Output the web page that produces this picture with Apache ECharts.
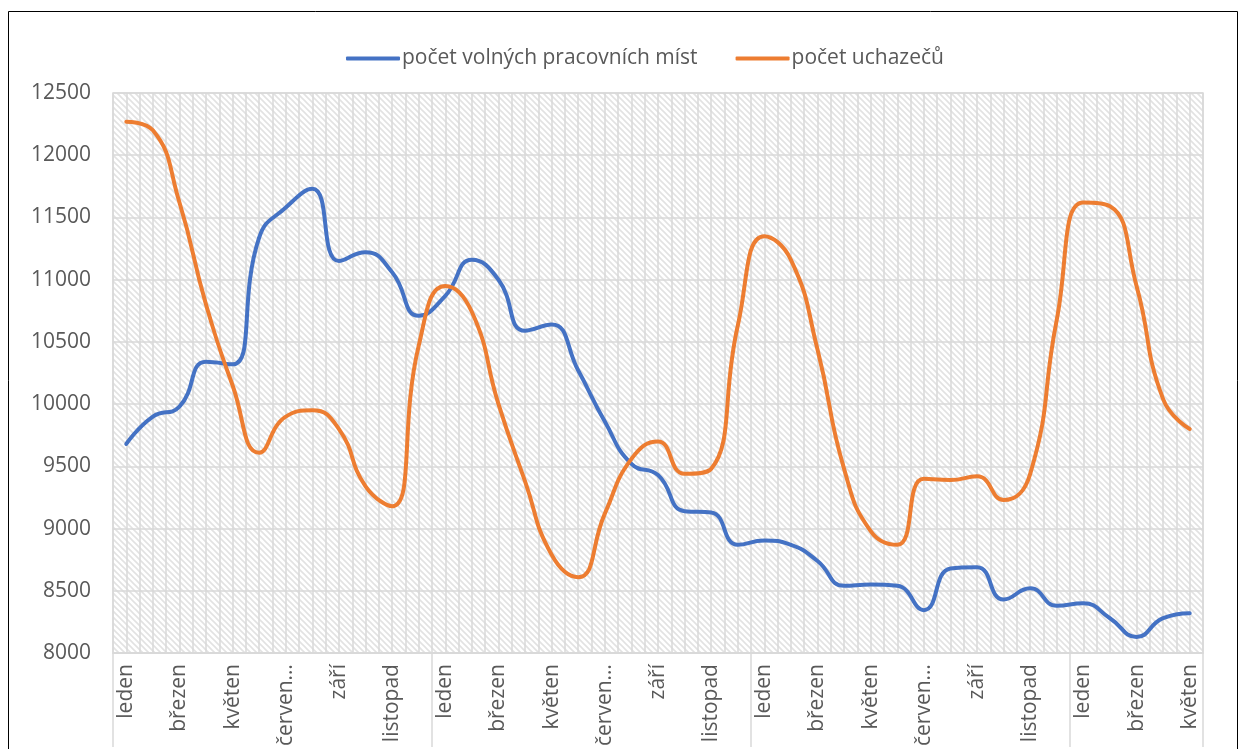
<!DOCTYPE html>
<html>
<head>
<meta charset="utf-8">
<script src="https://cdn.jsdelivr.net/npm/echarts@6/dist/echarts.min.js"></script>
<style>
  html, body { margin: 0; padding: 0; background: #fff; }
  #chart { width: 1244px; height: 749px; }
</style>
</head>
<body>
<div id="chart"></div>
<script>
const months = ['leden', 'únor', 'březen', 'duben', 'květen', 'červen', 'červenec', 'srpen', 'září', 'říjen', 'listopad', 'prosinec']
// 3 full years + Jan..May of the fourth
const categories = [...months, ...months, ...months, ...months.slice(0, 5)]

const volnaMista = [
  9680, 9900, 9980, 10340, 10320, 11340, 11580, 11730, 11150, 11220, 11060, 10710,
  10870, 11160, 11000, 10590, 10640, 10270, 9860, 9520, 9430, 9140, 9130, 8870,
  8905, 8870, 8740, 8540, 8550, 8540, 8345, 8680, 8690, 8430, 8520, 8380,
  8400, 8280, 8130, 8280, 8320
]
const uchazeci = [
  12270, 12200, 11620, 10800, 10150, 9610, 9900, 9950, 9800, 9340, 9180, 10470,
  10950, 10740, 10000, 9380, 8790, 8610, 9120, 9560, 9700, 9440, 9480, 10630,
  11350, 11160, 10440, 9480, 8980, 8870, 9400, 9390, 9420, 9230, 9440, 10680,
  11620, 11590, 10950, 10040, 9800
]
const seriesNames = ['počet volných pracovních míst', 'počet uchazečů']
const yTicks = { min: 8000, max: 12500, step: 500 }

const font = 'Open Sans, Noto Sans, sans-serif'
const textColor = '#595959'
const gridColor = '#d9d9d9'

// hatched plot background (like Excel's wide downward diagonal fill)
const makeHatch = () => {
  const s = 6
  const c = document.createElement('canvas')
  c.width = s
  c.height = s
  const ctx = c.getContext('2d')
  ctx.fillStyle = '#ffffff'
  ctx.fillRect(0, 0, s, s)
  ctx.strokeStyle = '#e2e2e2'
  ctx.lineWidth = 1.6
  ctx.beginPath()
  ctx.moveTo(-1, -1); ctx.lineTo(s + 1, s + 1)
  ctx.moveTo(-1, s - 1); ctx.lineTo(1, s + 1)
  ctx.moveTo(s - 1, -1); ctx.lineTo(s + 1, 1)
  ctx.stroke()
  return c
}

const chart = echarts.init(document.getElementById('chart'), null, { renderer: 'canvas' })

const halfSteps = categories.flatMap(() => ['', ''])

const option = {
  animation: false,
  textStyle: { fontFamily: font },
  graphic: [
    {
      type: 'rect',
      shape: { x: 8.5, y: 11.5, width: 1229, height: 760 },
      style: { fill: 'none', stroke: '#000', lineWidth: 1 },
      silent: true,
      z: 0
    }
  ],
  legend: {
    top: 43,
    left: 341,
    itemGap: 38,
    itemWidth: 54,
    itemHeight: 4,
    icon: 'roundRect',
    textStyle: { color: textColor, fontSize: 21, fontFamily: font, padding: [0, 0, 0, -3] },
    data: seriesNames
  },
  grid: {
    left: 113,
    right: 41,
    top: 93,
    bottom: 94,
    show: true,
    backgroundColor: { image: makeHatch(), repeat: 'repeat' },
    borderColor: gridColor,
    borderWidth: 1.5
  },
  xAxis: [
    {
      type: 'category',
      data: categories,
      boundaryGap: true,
      axisLine: { show: true, lineStyle: { color: gridColor, width: 1.5 } },
      axisTick: {
        show: true,
        interval: (i) => i % 12 === 0,
        length: 94,
        lineStyle: { color: gridColor, width: 1.5 }
      },
      splitLine: { show: false },
      axisLabel: {
        interval: 1,
        rotate: 90,
        margin: 11,
        color: textColor,
        fontSize: 21,
        fontFamily: font,
        formatter: (v) => (v === 'červenec' ? 'červen…' : v)
      }
    },
    {
      type: 'category',
      data: halfSteps,
      position: 'bottom',
      boundaryGap: true,
      axisLine: { show: false },
      axisTick: { show: false },
      axisLabel: { show: false },
      splitLine: { show: true, interval: 0, lineStyle: { color: gridColor, width: 1.5 } }
    }
  ],
  yAxis: {
    type: 'value',
    min: yTicks.min,
    max: yTicks.max,
    interval: yTicks.step,
    axisLine: { show: false },
    axisTick: { show: false },
    axisLabel: {
      color: textColor,
      fontSize: 21,
      fontFamily: font,
      margin: 22,
      formatter: (v) => String(v)
    },
    splitLine: { show: true, lineStyle: { color: gridColor, width: 1.5 } }
  },
  series: [
    {
      name: seriesNames[0],
      type: 'line',
      data: volnaMista,
      smooth: 0.5,
      showSymbol: false,
      symbol: 'none',
      lineStyle: { color: '#4472C4', width: 4, cap: 'round', join: 'round' },
      itemStyle: { color: '#4472C4' },
      z: 3
    },
    {
      name: seriesNames[1],
      type: 'line',
      data: uchazeci,
      smooth: 0.5,
      showSymbol: false,
      symbol: 'none',
      lineStyle: { color: '#ED7D31', width: 4, cap: 'round', join: 'round' },
      itemStyle: { color: '#ED7D31' },
      z: 4
    }
  ]
}

chart.setOption(option)
</script>
</body>
</html>
